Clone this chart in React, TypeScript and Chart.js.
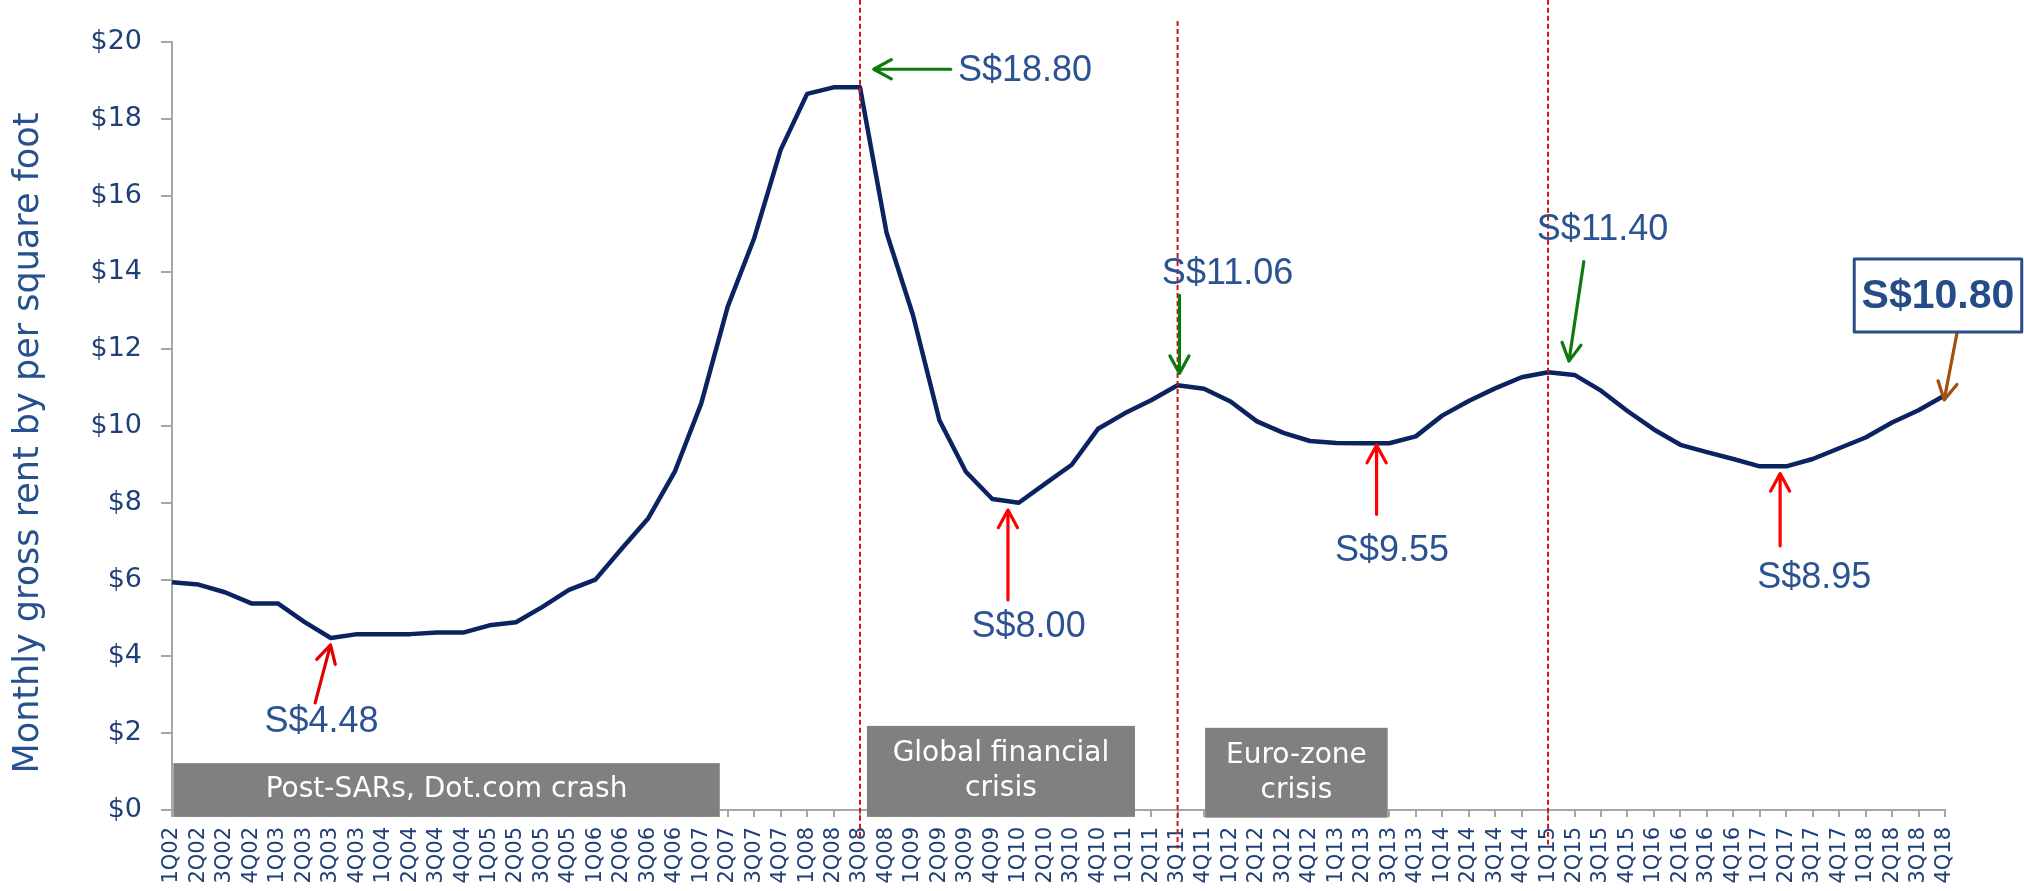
import React, { useEffect, useRef } from "react";
import { Chart, registerables } from "chart.js";

Chart.register(...registerables);

const categories = [
  "1Q02", "2Q02", "3Q02", "4Q02", "1Q03", "2Q03", "3Q03", "4Q03",
  "1Q04", "2Q04", "3Q04", "4Q04", "1Q05", "2Q05", "3Q05", "4Q05",
  "1Q06", "2Q06", "3Q06", "4Q06", "1Q07", "2Q07", "3Q07", "4Q07",
  "1Q08", "2Q08", "3Q08", "4Q08", "1Q09", "2Q09", "3Q09", "4Q09",
  "1Q10", "2Q10", "3Q10", "4Q10", "1Q11", "2Q11", "3Q11", "4Q11",
  "1Q12", "2Q12", "3Q12", "4Q12", "1Q13", "2Q13", "3Q13", "4Q13",
  "1Q14", "2Q14", "3Q14", "4Q14", "1Q15", "2Q15", "3Q15", "4Q15",
  "1Q16", "2Q16", "3Q16", "4Q16", "1Q17", "2Q17", "3Q17", "4Q17",
  "1Q18", "2Q18", "3Q18", "4Q18",
];

const rentValues = [
  5.93, 5.87, 5.67, 5.38, 5.38, 4.9, 4.48, 4.58,
  4.58, 4.58, 4.62, 4.62, 4.81, 4.89, 5.29, 5.73,
  6.0, 6.81, 7.6, 8.81, 10.59, 13.11, 14.89, 17.19,
  18.65, 18.82, 18.82, 15.04, 12.89, 10.15, 8.81, 8.1,
  8.0, 8.5, 8.99, 9.93, 10.33, 10.67, 11.06, 10.97,
  10.64, 10.12, 9.82, 9.61, 9.56, 9.55, 9.55, 9.73,
  10.27, 10.65, 10.98, 11.27, 11.4, 11.33, 10.92, 10.39,
  9.91, 9.51, 9.32, 9.14, 8.95, 8.95, 9.14, 9.42,
  9.7, 10.09, 10.41, 10.8,
];

const yTickValues = [0, 2, 4, 6, 8, 10, 12, 14, 16, 18, 20];
const yAxisTitle = "Monthly gross rent by per square foot";

// Event dividers (category index, value range)
const dividerIndex = [26, 38, 52];
const dividerTop = [21.1, 20.55, 21.1];
const dividerBottom = [-0.7, -1.0, -0.9];

// Shaded period boxes (category index range, value range)
const periodText = [["Post-SARs, Dot.com crash"], ["Global financial", "crisis"], ["Euro-zone", "crisis"]];
const periodFrom = [0.05, 26.26, 39.04];
const periodTo = [20.7, 36.39, 45.94];
const periodTop = [1.22, 2.19, 2.14];
const periodBottom = [-0.18, -0.18, -0.2];

// Value call-outs
const calloutText = ["S$4.48", "S$18.80", "S$8.00", "S$11.06", "S$9.55", "S$11.40", "S$8.95"];
const calloutX = [5.65, 29.7, 32.37, 39.89, 46.1, 54.06, 62.06];
const calloutY = [2.29, 19.23, 4.77, 13.96, 6.74, 15.1, 6.05];
const calloutAlign = ["center", "left", "center", "center", "center", "center", "center"];

// Arrows: tail -> tip
const arrowTailX = [5.41, 29.43, 31.59, 38.07, 45.52, 53.35, 60.77, 67.5];
const arrowTailY = [2.79, 19.29, 5.47, 13.4, 7.7, 14.28, 6.88, 12.59];
const arrowTipX = [5.99, 26.52, 31.59, 38.07, 45.52, 52.79, 60.77, 66.97];
const arrowTipY = [4.3, 19.29, 7.81, 11.37, 9.5, 11.69, 8.76, 10.68];
const arrowColor = ["#E00000", "#0E7A0E", "#FF0000", "#0E7A0E", "#FF0000", "#0E7A0E", "#FF0000", "#A0500F"];

// Latest value box
const latestText = "S$10.80";
const latestFrom = 63.57;
const latestTo = 69.9;
const latestTop = 14.35;
const latestBottom = 12.45;

const TICK_COLOR = "#1F3F77";
const NOTE_COLOR = "#2C5391";
const AXIS_COLOR = "#A6A6A6";

const annotationPlugin = {
  id: "annotations",
  afterDraw(chart: any) {
    const ctx = chart.ctx as CanvasRenderingContext2D;
    const xs = chart.scales.x;
    const ys = chart.scales.y;
    const px = (v: number) => xs.getPixelForValue(v);
    const py = (v: number) => ys.getPixelForValue(v);
    const area = chart.chartArea;

    ctx.save();

    // Period boxes
    for (let i = 0; i < periodText.length; i++) {
      const x0 = px(periodFrom[i]);
      const x1 = px(periodTo[i]);
      const y0 = py(periodTop[i]);
      const y1 = py(periodBottom[i]);
      ctx.fillStyle = "#808080";
      ctx.fillRect(x0, y0, x1 - x0, y1 - y0);
      ctx.fillStyle = "#FFFFFF";
      ctx.font = "28px 'DejaVu Sans', sans-serif";
      ctx.textAlign = "center";
      ctx.textBaseline = "middle";
      const lines = periodText[i];
      const lh = 35;
      const cy = (y0 + y1) / 2;
      lines.forEach((t, k) => {
        ctx.fillText(t, (x0 + x1) / 2, cy + (k - (lines.length - 1) / 2) * lh);
      });
    }

    // Dividers
    ctx.strokeStyle = "#D01414";
    ctx.lineWidth = 2;
    ctx.setLineDash([5, 3]);
    for (let i = 0; i < dividerIndex.length; i++) {
      const x = px(dividerIndex[i]);
      ctx.beginPath();
      ctx.moveTo(x, py(dividerTop[i]));
      ctx.lineTo(x, py(dividerBottom[i]));
      ctx.stroke();
    }
    ctx.setLineDash([]);

    // Arrows
    for (let i = 0; i < arrowTipX.length; i++) {
      const x0 = px(arrowTailX[i]);
      const y0 = py(arrowTailY[i]);
      const x1 = px(arrowTipX[i]);
      const y1 = py(arrowTipY[i]);
      const ang = Math.atan2(y1 - y0, x1 - x0);
      const head = 20;
      const spread = 0.5;
      ctx.strokeStyle = arrowColor[i];
      ctx.lineWidth = 3.2;
      ctx.lineCap = "round";
      ctx.lineJoin = "round";
      ctx.beginPath();
      ctx.moveTo(x0, y0);
      ctx.lineTo(x1, y1);
      ctx.moveTo(x1 - head * Math.cos(ang - spread), y1 - head * Math.sin(ang - spread));
      ctx.lineTo(x1, y1);
      ctx.lineTo(x1 - head * Math.cos(ang + spread), y1 - head * Math.sin(ang + spread));
      ctx.stroke();
    }

    // Call-out labels
    ctx.fillStyle = NOTE_COLOR;
    ctx.font = "36px 'Liberation Sans', Arial, sans-serif";
    ctx.textBaseline = "middle";
    for (let i = 0; i < calloutText.length; i++) {
      ctx.textAlign = calloutAlign[i] as CanvasTextAlign;
      ctx.fillText(calloutText[i], px(calloutX[i]), py(calloutY[i]));
    }

    // Latest value box
    {
      const x0 = px(latestFrom);
      const x1 = Math.min(px(latestTo), chart.width - 2);
      const y0 = py(latestTop);
      const y1 = py(latestBottom);
      ctx.fillStyle = "#FFFFFF";
      ctx.fillRect(x0, y0, x1 - x0, y1 - y0);
      ctx.strokeStyle = "#2B5085";
      ctx.lineWidth = 3;
      ctx.strokeRect(x0, y0, x1 - x0, y1 - y0);
      ctx.fillStyle = "#244C86";
      ctx.font = "bold 41px 'Liberation Sans', Arial, sans-serif";
      ctx.textAlign = "center";
      ctx.textBaseline = "middle";
      ctx.fillText(latestText, (x0 + x1) / 2, (y0 + y1) / 2 + 1);
    }

    // Y axis title
    ctx.fillStyle = "#27508F";
    ctx.font = "35px 'DejaVu Sans', sans-serif";
    ctx.textAlign = "center";
    ctx.textBaseline = "alphabetic";
    ctx.translate(area.left - 134, (area.top + area.bottom) / 2 + 17);
    ctx.rotate(-Math.PI / 2);
    ctx.fillText(yAxisTitle, 0, 0);

    ctx.restore();
  },
};

export default function App() {
  const canvasRef = useRef<HTMLCanvasElement | null>(null);

  useEffect(() => {
    const canvas = canvasRef.current;
    if (!canvas) return;
    const chart = new Chart(canvas, {
      type: "line",
      data: {
        labels: categories,
        datasets: [
          {
            data: rentValues,
            borderColor: "#0B2361",
            borderWidth: 4.5,
            pointRadius: 0,
            tension: 0,
            fill: false,
            borderJoinStyle: "round",
          },
        ],
      },
      options: {
        animation: false,
        responsive: false,
        maintainAspectRatio: false,
        layout: { padding: { left: 0, right: 79, top: 42, bottom: 0 } },
        plugins: {
          legend: { display: false },
          tooltip: { enabled: false },
          title: { display: false },
        },
        scales: {
          x: {
            type: "category",
            offset: false,
            border: { display: true, color: AXIS_COLOR, width: 2 },
            grid: {
              display: true,
              drawOnChartArea: false,
              drawTicks: true,
              tickLength: 7,
              color: AXIS_COLOR,
              lineWidth: 2,
              offset: false,
            },
            ticks: {
              autoSkip: false,
              maxRotation: 90,
              minRotation: 90,
              padding: 10,
              color: TICK_COLOR,
              font: { family: "'DejaVu Sans', sans-serif", size: 21 },
            },
            afterFit: (scale: any) => {
              scale.height = 81;
            },
          },
          y: {
            min: 0,
            max: 20,
            afterBuildTicks: (scale: any) => {
              scale.ticks = yTickValues.map((v) => ({ value: v }));
            },
            border: { display: true, color: AXIS_COLOR, width: 2 },
            grid: {
              display: true,
              drawOnChartArea: false,
              drawTicks: true,
              tickLength: 11,
              color: AXIS_COLOR,
              lineWidth: 2,
            },
            ticks: {
              padding: 19,
              color: TICK_COLOR,
              font: { family: "'DejaVu Sans', sans-serif", size: 27 },
              callback: (v: any) => "$" + v,
            },
            afterFit: (scale: any) => {
              scale.width = 172;
            },
          },
        },
      },
      plugins: [annotationPlugin],
    });
    return () => chart.destroy();
  }, []);

  return (
    <div style={{ position: "absolute", left: 0, top: 0, width: 2024, height: 891, background: "#FFFFFF" }}>
      <canvas ref={canvasRef} width={2024} height={891} style={{ display: "block" }} />
    </div>
  );
}
